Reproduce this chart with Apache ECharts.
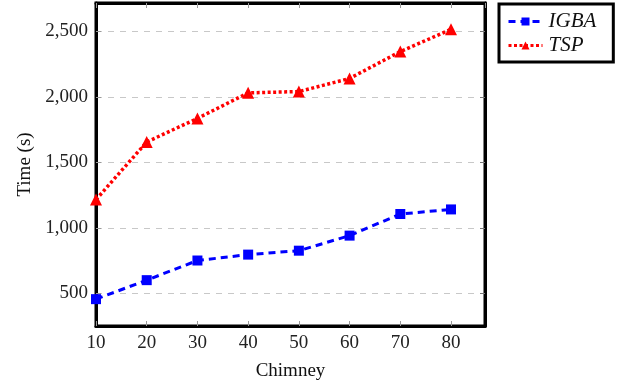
<!DOCTYPE html>
<html><head><meta charset="utf-8">
<script src="https://cdn.jsdelivr.net/npm/echarts@6/dist/echarts.min.js"></script>
<style>html,body{margin:0;padding:0;background:#fff}#c{width:625px;height:389px}</style>
</head><body><div id="c"></div>
<script>
const chimney = [10, 20, 30, 40, 50, 60, 70, 80];
const igba = [455, 600, 750, 795, 825, 940, 1105, 1140];
const tsp = [1215, 1655, 1835, 2030, 2040, 2140, 2345, 2515];
const yTicks = [500, 1000, 1500, 2000, 2500];
const seriesNames = ['IGBA', 'TSP'];

const font = 'Liberation Serif';
const chart = echarts.init(document.getElementById('c'));
const xData = (vals) => chimney.map((x, i) => [x, vals[i]]);
chart.setOption({
  animation: false,
  backgroundColor: '#fff',
  grid: { left: 96, right: 140, top: 3, bottom: 63, show: true, borderColor: '#000', borderWidth: 3, containLabel: false },
  legend: {
    orient: 'vertical', left: 499, top: 4,
    borderColor: '#000', borderWidth: 3, borderRadius: 0,
    padding: [7, 17, 6, 8], itemWidth: 34, itemHeight: 10, itemGap: 3,
    lineStyle: { width: 3 },
    textStyle: { fontFamily: font, fontStyle: 'italic', fontSize: 21, color: '#111', padding: [0, 0, 0, 1] },
    data: seriesNames
  },
  xAxis: [{
    type: 'value', min: 10, max: 86.7, interval: 10,
    name: 'Chimney', nameLocation: 'middle', nameGap: 36,
    nameTextStyle: { fontFamily: font, fontSize: 19, color: '#111' },
    axisLine: { show: true, lineStyle: { color: '#000', width: 3 } },
    axisTick: { show: true, inside: true, length: 5, lineStyle: { color: '#999' } },
    axisLabel: { fontFamily: font, fontSize: 19, color: '#222', margin: 8, showMaxLabel: false },
    splitLine: { show: false }
  }, {
    type: 'value', position: 'top', min: 10, max: 86.7, interval: 10,
    axisLine: { show: true, lineStyle: { color: '#000', width: 3 } },
    axisTick: { show: true, inside: true, length: 5, lineStyle: { color: '#999' } },
    axisLabel: { show: false }, splitLine: { show: false }
  }],
  yAxis: [{
    type: 'value', min: 250, max: 2716,
    name: 'Time (s)', nameLocation: 'middle', nameGap: 58, nameRotate: 90,
    nameTextStyle: { fontFamily: font, fontSize: 19, color: '#111' },
    axisLine: { show: true, lineStyle: { color: '#000', width: 3 } },
    axisTick: { show: true, inside: true, length: 5, customValues: yTicks, lineStyle: { color: '#999' } },
    axisLabel: { fontFamily: font, fontSize: 19, color: '#222', margin: 8, customValues: yTicks,
      formatter: v => v.toLocaleString('en-US') },
    splitLine: { show: true, lineStyle: { color: '#c8c8c8', type: [6, 6], width: 1 } }
  }, {
    type: 'value', position: 'right', min: 250, max: 2716,
    axisLine: { show: true, lineStyle: { color: '#000', width: 3 } },
    axisTick: { show: true, inside: true, length: 5, customValues: yTicks, lineStyle: { color: '#777' } },
    axisLabel: { show: false }, splitLine: { show: false }
  }],
  series: [{
    name: seriesNames[0], type: 'line', data: xData(igba),
    symbol: 'rect', symbolSize: 10, color: '#0000ff',
    lineStyle: { color: '#0000ff', width: 3, type: [7, 5] },
    itemStyle: { color: '#0000ff' }
  }, {
    name: seriesNames[1], type: 'line', data: xData(tsp),
    symbol: 'triangle', symbolSize: 12, color: '#ff0000',
    lineStyle: { color: '#ff0000', width: 3.5, type: [3, 2.5] },
    itemStyle: { color: '#ff0000' }
  }]
});
</script></body></html>
